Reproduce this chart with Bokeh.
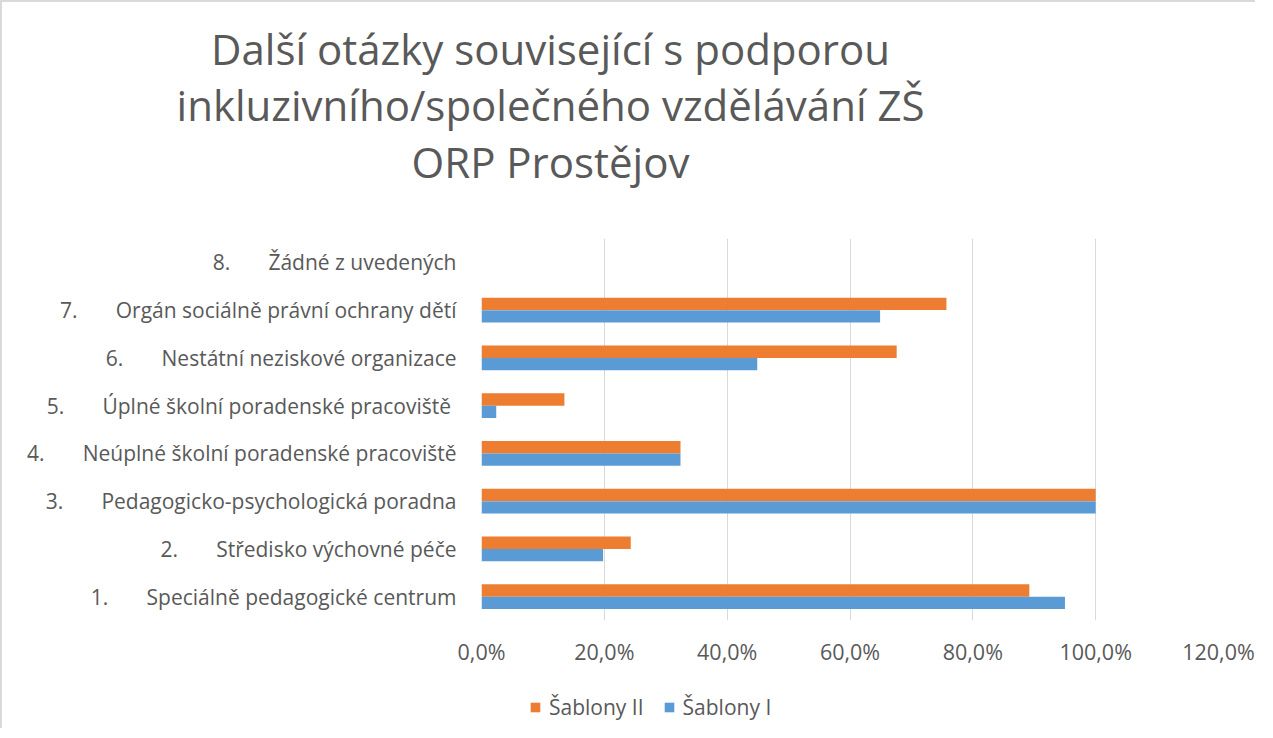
from bokeh.plotting import figure
from bokeh.models import Range1d, FactorRange, FixedTicker, Legend, LegendItem, ColumnDataSource
from bokeh.transform import dodge
from bokeh.core.properties import value
from bokeh.embed import file_html
from bokeh.resources import INLINE

NB = "\u00a0"

# ---- data ----
numbers = ["1.", "2.", "3.", "4.", "5.", "6.", "7.", "8."]
names = [
    "Speciálně pedagogické centrum",
    "Středisko výchovné péče",
    "Pedagogicko-psychologická poradna",
    "Neúplné školní poradenské pracoviště",
    "Úplné školní poradenské pracoviště" + NB,
    "Nestátní neziskové organizace",
    "Orgán sociálně právní ochrany dětí",
    "Žádné z uvedených",
]
sablony_II = [89.2, 24.3, 100.0, 32.4, 13.5, 67.6, 75.7, 0.0]
sablony_I = [95.0, 19.8, 100.0, 32.4, 2.4, 44.9, 64.9, 0.0]
series_names = ["Šablony II", "Šablony I"]
x_ticks = [0, 20, 40, 60, 80, 100, 120]
x_tick_labels = ["0,0%", "20,0%", "40,0%", "60,0%", "80,0%", "100,0%", "120,0%"]
title_lines = [
    "Další otázky související s podporou",
    "inkluzivního/společného vzdělávání ZŠ",
    "ORP Prostějov",
]

ORANGE = "#ED7D31"
BLUE = "#5B9BD5"
TEXT = "#595959"
GRID = "#d9d9d9"
FONT = "Open Sans"
W = 1255
BORDER = "2px solid #d9d9d9"

# ---- title figure ----
TH = 228
tfig = figure(width=W, height=TH, x_range=Range1d(0, W), y_range=Range1d(TH, 0),
              x_axis_type=None, y_axis_type=None, output_backend="svg",
              toolbar_location=None, min_border=0)
tfig.outline_line_color = None
tfig.grid.visible = False
tfig.styles = {"border-top": BORDER, "border-left": BORDER}
tfig.text(x=[548, 548, 548], y=[46, 102, 159], text=title_lines,
          text_align="center", text_baseline="alphabetic",
          text_font=value(FONT), text_font_size=value("42px"), text_color=TEXT)

# ---- chart ----
cats = [n + NB * 7 + t for n, t in zip(numbers, names)]
src = ColumnDataSource(dict(cat=cats, II=sablony_II, I=sablony_I))

p = figure(
    width=W, height=450,
    y_range=FactorRange(factors=cats),
    x_range=Range1d(0, 120),
    output_backend="svg", toolbar_location=None,
    min_border_left=479, min_border_right=39,
    min_border_top=10, min_border_bottom=58,
)
p.styles = {"border-left": BORDER}
p.outline_line_color = None

r2 = p.hbar(y=dodge("cat", 0.13, range=p.y_range), right="II", height=0.26,
            fill_color=ORANGE, line_color=None, source=src)
r1 = p.hbar(y=dodge("cat", -0.13, range=p.y_range), right="I", height=0.26,
            fill_color=BLUE, line_color=None, source=src)

xa = p.xaxis[0]
xa.ticker = FixedTicker(ticks=x_ticks)
xa.major_label_overrides = dict(zip(x_ticks, x_tick_labels))
xa.axis_line_color = None
xa.major_tick_line_color = None
xa.minor_tick_line_color = None
xa.major_label_text_font = FONT
xa.major_label_text_font_size = "21.5px"
xa.major_label_text_color = TEXT
xa.major_label_standoff = 10

ya = p.yaxis[0]
ya.axis_line_color = None
ya.major_tick_line_color = None
ya.minor_tick_line_color = None
ya.major_label_text_font = FONT
ya.major_label_text_font_size = "21px"
ya.major_label_text_color = TEXT
ya.major_label_standoff = 19

p.xgrid.grid_line_color = GRID
p.xgrid.ticker = FixedTicker(ticks=x_ticks)
p.ygrid.grid_line_color = None

# ---- legend strip (zero-size proxy glyphs, only their legend swatches show) ----
lfig = figure(width=W, height=50, x_range=Range1d(0, 1), y_range=Range1d(0, 1),
              x_axis_type=None, y_axis_type=None, output_backend="svg",
              toolbar_location=None, min_border=0)
lfig.outline_line_color = None
lfig.grid.visible = False
lfig.styles = {"border-left": BORDER}
l2 = lfig.hbar(y=[0.5], right=[0], height=0, fill_color=ORANGE, line_color=None)
l1 = lfig.hbar(y=[0.5], right=[0], height=0, fill_color=BLUE, line_color=None)
legend = Legend(
    items=[LegendItem(label=series_names[0], renderers=[l2]),
           LegendItem(label=series_names[1], renderers=[l1])],
    orientation="horizontal", location=(527, 7),
    border_line_color=None, background_fill_alpha=0,
    padding=0, margin=0, spacing=19, label_standoff=8,
    glyph_width=12, glyph_height=12,
    label_text_font=FONT, label_text_font_size="21px", label_text_color=TEXT,
)
lfig.add_layout(legend)

open("out.html", "w").write(file_html([tfig, p, lfig], INLINE))
